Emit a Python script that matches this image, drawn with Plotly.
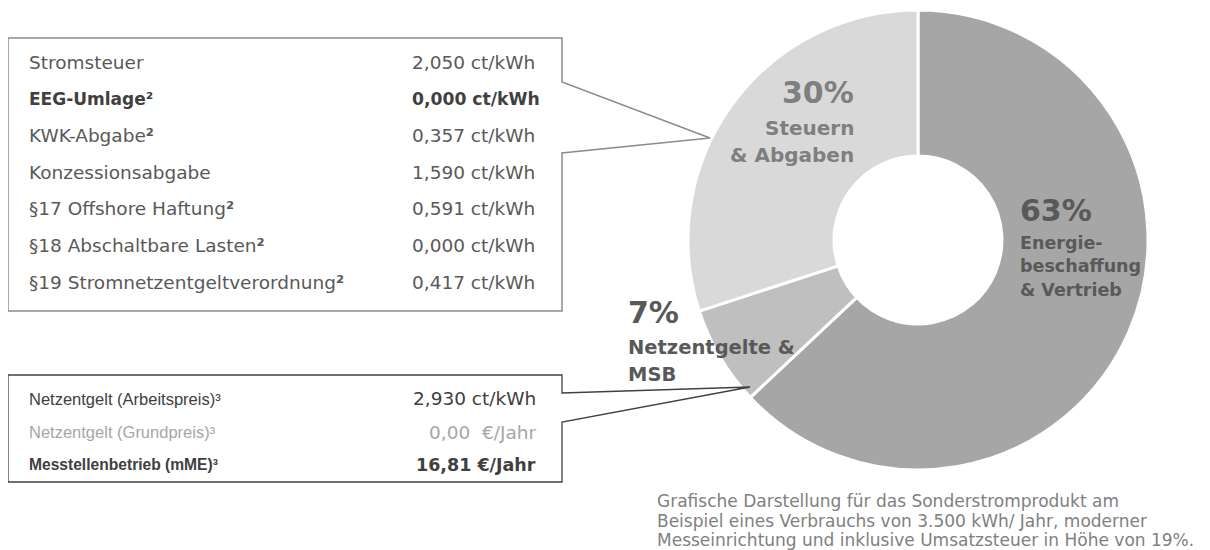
import plotly.graph_objects as go

# ---------------- data ----------------
categories = ["Energiebeschaffung & Vertrieb", "Netzentgelte & MSB", "Steuern & Abgaben"]
shares = [63, 7, 30]
category_lines = [["Energie-", "beschaffung", "& Vertrieb"], ["Netzentgelte &", "MSB"], ["Steuern", "& Abgaben"]]

tax_items = ["Stromsteuer", "EEG-Umlage", "KWK-Abgabe", "Konzessionsabgabe",
             "§17 Offshore Haftung", "§18 Abschaltbare Lasten", "§19 Stromnetzentgeltverordnung"]
tax_values = [2.050, 0.000, 0.357, 1.590, 0.591, 0.000, 0.417]
tax_notes = ["", "2", "2", "", "2", "2", "2"]
tax_unit = "ct/kWh"

grid_items = ["Netzentgelt (Arbeitspreis)", "Netzentgelt (Grundpreis)", "Messtellenbetrieb (mME)"]
grid_values = [2.930, 0.00, 16.81]
grid_decimals = [3, 2, 2]
grid_units = ["ct/kWh", "€/Jahr", "€/Jahr"]
grid_notes = ["3", "3", "3"]

footnote_lines = [
    "Grafische Darstellung für das Sonderstromprodukt am",
    "Beispiel eines Verbrauchs von 3.500 kWh/ Jahr, moderner",
    "Messeinrichtung und inklusive Umsatzsteuer in Höhe von 19%.",
]

# ---------------- styles ----------------
PAGE_OFF = 8  # default body margin of the html page
W, H = 1210 - PAGE_OFF, 550 - PAGE_OFF
slice_colors = ["#a6a6a6", "#bfbfbf", "#d9d9d9"]
tax_bold = [False, True, False, False, False, False, False]
grid_style = ["normal", "light", "bold"]
sup = {"2": "²", "3": "³"}


def X(px):
    return (px - PAGE_OFF) / W


def Y(py):
    return 1 - (py - PAGE_OFF) / H


def de(v, d):
    return f"{v:.{d}f}".replace(".", ",")


fig = go.Figure()

# donut
cx, cy, r = 918, 240, 230
fig.add_trace(go.Pie(
    labels=categories, values=shares, sort=False, direction="clockwise", rotation=0,
    hole=0.365, marker=dict(colors=slice_colors, line=dict(color="white", width=3)),
    textinfo="none", hoverinfo="label+percent", showlegend=False,
    domain=dict(x=[X(cx - r), X(cx + r)], y=[Y(cy + r), Y(cy - r)]),
))

ann = []


def add_text(text, px, py, size, color, family, xanchor="left", bold=False):
    if bold:
        text = f"<b>{text}</b>"
    ann.append(dict(text=text, x=X(px), y=Y(py), xref="paper", yref="paper",
                    xanchor=xanchor, yanchor="middle", showarrow=False, borderpad=0,
                    font=dict(size=size, color=color, family=family)))


DJ = "DejaVu Sans"
LIB = "Liberation Sans"
# pie labels: 63 %
add_text(f"{shares[0]}%", 1019, 211, 30, "#595959", DJ, bold=True)
for line, yy in zip(category_lines[0], [243.5, 266.5, 289.5]):
    add_text(line, 1019, yy, 17.5, "#595959", DJ, bold=True)
# 7 %
add_text(f"{shares[1]}%", 627, 312.5, 30, "#595959", DJ, bold=True)
for line, yy in zip(category_lines[1], [347.5, 374.5]):
    add_text(line, 627, yy, 19.5, "#595959", DJ, bold=True)
# 30 %
add_text(f"{shares[2]}%", 855, 92, 30, "#7f7f7f", DJ, xanchor="right", bold=True)
for line, yy in zip(category_lines[2], [128, 155.5]):
    add_text(line, 855, yy, 20, "#7f7f7f", DJ, xanchor="right", bold=True)

# upper table
for i, (item, val, note, b) in enumerate(zip(tax_items, tax_values, tax_notes, tax_bold)):
    yy = 62.5 + 36.6 * i
    lbl = item + (f"<b>{sup[note]}</b>" if note else "")
    vtxt = f"{de(val, 3)} {tax_unit}"
    if b:
        add_text(lbl, 28, yy, 17, "#404040", DJ, bold=True)
        add_text(vtxt, 411, yy, 17.2, "#404040", DJ, bold=True)
    else:
        add_text(lbl, 28, yy, 18.5, "#595959", DJ)
        add_text(vtxt, 411, yy, 18.5, "#595959", DJ)

# lower table
for i, (item, val, d, unit, note, st) in enumerate(zip(grid_items, grid_values, grid_decimals,
                                                        grid_units, grid_notes, grid_style)):
    yy = [398.5, 432, 464.5][i]
    lbl = item + sup[note]
    sep = " " if d == 3 or val != 0 else "\u00a0 "
    vtxt = f"{de(val, d)}{sep}{unit}"
    if st == "bold":
        add_text(lbl, 28, yy, 15.6, "#404040", LIB, bold=True)
        add_text(vtxt, 537, yy, 17.5, "#404040", DJ, xanchor="right", bold=True)
    elif st == "light":
        add_text(lbl, 28, yy, 16.5, "#a6a6a6", LIB)
        add_text(vtxt, 537, yy, 18.5, "#a6a6a6", DJ, xanchor="right")
    else:
        add_text(lbl, 28, yy, 16.5, "#404040", LIB)
        add_text(vtxt, 537, yy, 18.5, "#404040", DJ, xanchor="right")

# footnote
for line, yy in zip(footnote_lines, [501, 521, 540]):
    add_text(line, 656, yy, 17, "#808080", DJ)


def path(points):
    return "M " + " L ".join(f"{X(px):.5f},{Y(py):.5f}" for px, py in points) + " Z"


shapes = [
    dict(type="path", xref="paper", yref="paper",
         path=path([(8, 38), (562, 38), (562, 82), (710, 138), (562, 153), (562, 311), (8, 311)]),
         line=dict(color="#8c8c8c", width=1.5), fillcolor="rgba(0,0,0,0)", layer="above"),
    dict(type="path", xref="paper", yref="paper",
         path=path([(8, 375), (562, 375), (562, 393), (750, 387), (562, 422), (562, 482), (8, 482)]),
         line=dict(color="#404040", width=1.3), fillcolor="rgba(0,0,0,0)", layer="above"),
]

fig.update_layout(
    width=W, height=H, autosize=False,
    margin=dict(l=0, r=0, t=0, b=0, pad=0),
    paper_bgcolor="white", plot_bgcolor="white",
    annotations=ann, shapes=shapes,
)

fig.write_html("out.html")
